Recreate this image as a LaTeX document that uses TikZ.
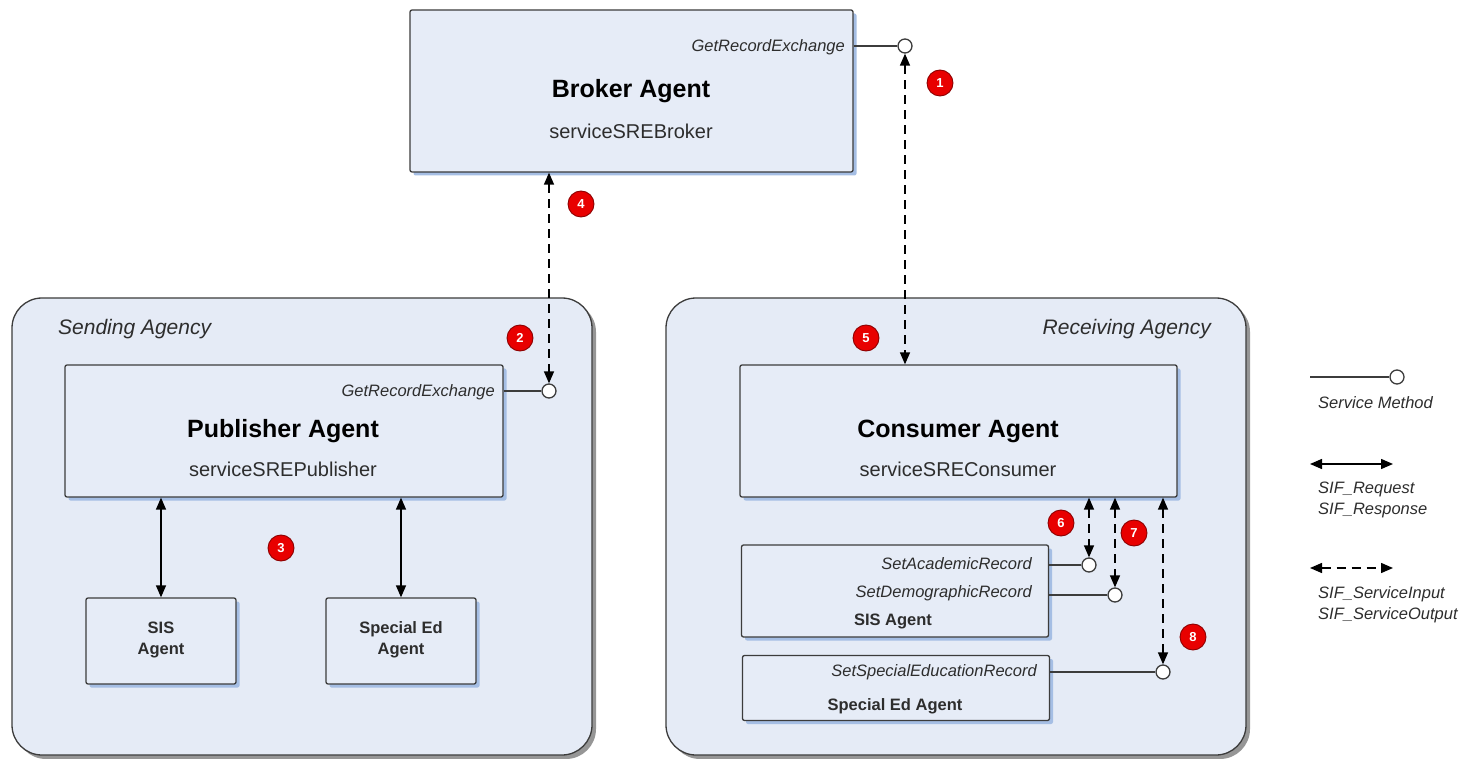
\documentclass[tikz,border=0pt]{standalone}
\usepackage{fontspec}
\setmainfont{Liberation Sans}
\usetikzlibrary{arrows.meta,shadows}
\definecolor{boxfill}{RGB}{230,236,247}
\definecolor{agfill}{RGB}{229,235,246}
\definecolor{edge}{RGB}{60,60,60}
\definecolor{bshadow}{RGB}{165,190,228}
\definecolor{ashadow}{RGB}{150,150,150}
\definecolor{badgered}{RGB}{232,0,0}
\definecolor{badgeedge}{RGB}{140,0,0}
\definecolor{txt}{RGB}{45,45,45}
\begin{document}
\begin{tikzpicture}[x=1pt,y=-1pt,
  agency/.style={draw=edge,line width=1.3pt,fill=agfill,rounded corners=30pt,inner sep=0,
    drop shadow={shadow xshift=4pt,shadow yshift=-4pt,fill=ashadow,opacity=1}},
  agentbox/.style={draw=edge,line width=1.3pt,fill=boxfill,rounded corners=2pt,inner sep=0,
    drop shadow={shadow xshift=3.5pt,shadow yshift=-3.5pt,fill=bshadow,opacity=1}},
  title/.style={font=\fontsize{25}{29}\selectfont\bfseries,text=black,inner sep=0},
  sub/.style={font=\fontsize{20}{24}\selectfont,text=txt,inner sep=0},
  smallbold/.style={font=\fontsize{16.5}{21}\selectfont\bfseries,text=txt,inner sep=0,align=center},
  portlabel/.style={font=\fontsize{16.5}{19}\selectfont\itshape,text=txt,inner sep=0},
  agencylabel/.style={font=\fontsize{21}{25}\selectfont\itshape,text=txt,inner sep=0},
  legendlabel/.style={font=\fontsize{16.5}{21}\selectfont\itshape,text=txt,inner sep=0,align=left},
  port/.style={circle,draw=edge,line width=1.3pt,fill=white,minimum size=14pt,inner sep=0},
  portline/.style={draw=edge,line width=1.4pt},
  badge/.style={circle,draw=badgeedge,line width=0.9pt,fill=badgered,text=white,minimum size=26pt,inner sep=0,
    font=\fontsize{13}{15}\selectfont\bfseries},
  dbl/.style={line width=1.4pt,draw=black,{Triangle[length=12pt,width=10pt]}-{Triangle[length=12pt,width=10pt]}},
  dbldash/.style={dbl,dash pattern=on 9pt off 6pt}
]
\useasboundingbox (0,0) rectangle (1473,759);

% agencies
\node[agency,minimum width=580pt,minimum height=457pt] (send) at (302,526.5) {};
\node[agency,minimum width=580pt,minimum height=457pt] (recv) at (956,526.5) {};
\node[agencylabel,anchor=west] (sendL) at (58,329) {Sending Agency};
\node[agencylabel,anchor=east] (recvL) at (1211,329) {Receiving Agency};

% broker
\node[agentbox,minimum width=443pt,minimum height=162pt] (broker) at (631.5,91) {};
\node[title] (brokerT) at (631,91) {Broker Agent};
\node[sub] (brokerS) at (631,131) {serviceSREBroker};
\node[portlabel,anchor=east] (brokerP) at (845,47) {GetRecordExchange};
\node[port] (c1) at (905,46) {};
\draw[portline] (broker.east |- c1) -- (c1);

% publisher
\node[agentbox,minimum width=438pt,minimum height=132pt] (pub) at (284,431) {};
\node[title] (pubT) at (283,431) {Publisher Agent};
\node[sub] (pubS) at (283,469) {serviceSREPublisher};
\node[portlabel,anchor=east] (pubP) at (495,392) {GetRecordExchange};
\node[port] (c2) at (549,391) {};
\draw[portline] (pub.east |- c2) -- (c2);

\node[agentbox,minimum width=150pt,minimum height=86pt] (sis1) at (161,641) {};
\node[smallbold] (sis1T) at (161,640) {SIS\\Agent};
\node[agentbox,minimum width=150pt,minimum height=86pt] (sped1) at (401,641) {};
\node[smallbold] (sped1T) at (401,640) {Special Ed\\Agent};

% consumer
\node[agentbox,minimum width=437pt,minimum height=132pt] (cons) at (958.5,431) {};
\node[title] (consT) at (958,431) {Consumer Agent};
\node[sub] (consS) at (958,469) {serviceSREConsumer};

\node[agentbox,minimum width=307pt,minimum height=92pt] (sis2) at (895,591) {};
\node[portlabel,anchor=east] (acadP) at (1032,564) {SetAcademicRecord};
\node[portlabel,anchor=east] (demoP) at (1032,593) {SetDemographicRecord};
\node[smallbold] (sis2T) at (893,621) {SIS Agent};
\node[port] (c6) at (1089,565) {};
\node[port] (c7) at (1115,595) {};
\draw[portline] (sis2.east |- c6) -- (c6);
\draw[portline] (sis2.east |- c7) -- (c7);

\node[agentbox,minimum width=307pt,minimum height=65pt] (sped2) at (896,688) {};
\node[portlabel,anchor=east] (spedP) at (1037,672) {SetSpecialEducationRecord};
\node[smallbold] (sped2T) at (895,706) {Special Ed Agent};
\node[port] (c8) at (1163,672) {};
\draw[portline] (sped2.east |- c8) -- (c8);

% connectors
\draw[dbldash] (c1.south) -- (c1.south |- cons.north);
\draw[dbldash] (c2.north |- broker.south) -- (c2.north);
\draw[dbl] (sis1.north |- pub.south) -- (sis1.north);
\draw[dbl] (sped1.north |- pub.south) -- (sped1.north);
\draw[dbldash] (c6.north |- cons.south) -- (c6.north);
\draw[dbldash] (c7.north |- cons.south) -- (c7.north);
\draw[dbldash] (c8.north |- cons.south) -- (c8.north);

% badges
\node[badge] (b1) at (940,83) {1};
\node[badge] (b2) at (520,338) {2};
\node[badge] (b3) at (281,548) {3};
\node[badge] (b4) at (581,204) {4};
\node[badge] (b5) at (866,338) {5};
\node[badge] (b6) at (1061,523) {6};
\node[badge] (b7) at (1134,533) {7};
\node[badge] (b8) at (1193,637) {8};

% legend
\coordinate (l1a) at (1310,377);
\node[port] (lc) at (1397,377) {};
\draw[portline] (l1a) -- (lc);
\node[legendlabel,anchor=west] (lt1) at (1318,403) {Service Method};
\coordinate (l2a) at (1310,464);
\coordinate (l2b) at (1393,464);
\draw[dbl] (l2a) -- (l2b);
\node[legendlabel,anchor=north west] (lt2) at (1318,482) {SIF\_Request\\SIF\_Response};
\coordinate (l3a) at (1310,568);
\coordinate (l3b) at (1393,568);
\draw[dbldash] (l3a) -- (l3b);
\node[legendlabel,anchor=north west] (lt3) at (1318,586) {SIF\_ServiceInput\\SIF\_ServiceOutput};
\end{tikzpicture}
\end{document}
